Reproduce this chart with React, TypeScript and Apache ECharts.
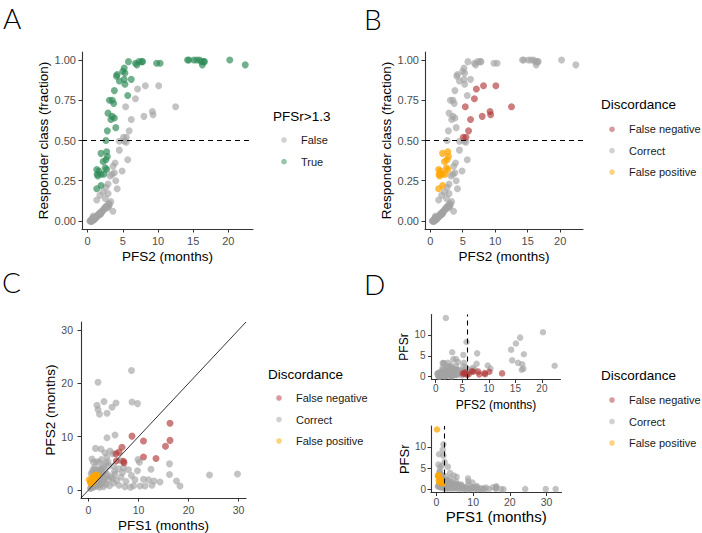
import React, { useEffect, useRef } from "react";
import * as echarts from "echarts";

// ---------- data (one entry per patient) ----------
const pfs1 = [
  1.9, 8.6, 1.7, 1.9, 2.2, 3.1, 3.7, 4.7, 5.5, 8.7, 9.8,
  5.3, 3.7, 2.5, 1.4, 4.3, 4.9, 0.7, 3.3, 3.7,
  2.8, 1.2, 3.5, 2.1, 1.6, 3.0, 1.0, 3.9, 0.9, 2.6, 0.53, 1.9, 2.2, 1.1, 2.5, 1.5, 0.8, 2.4, 1.3, 1.7,
  1.2, 1.8, 1.5, 1.1, 0.9, 0.6, 0.5, 1.0, 1.4, 0.7, 0.135, 0.4, 0.8, 1.6, 0.45,
  7.1, 7.0, 13.5, 11.0, 5.5, 6.1, 6.7, 15.4, 11.0, 16.3, 8.7, 16.3, 5.6,
  5.0, 6.5, 10.2, 9.9, 4.0, 16.2, 12.5, 3.3, 8.0, 5.2, 6.0, 2.8, 2.6, 3.5, 2.2, 16.2, 2.0, 2.4, 1.5,
  0.5, 0.8, 1.0, 1.2, 0.9, 1.5, 2.0, 1.8, 2.5, 3.0, 3.5, 4.2, 5.0, 6.1, 7.3, 8.4, 9.0, 10.3, 11.3, 12.7, 18.3,
  2.2, 1.6, 2.8, 3.2, 4.0, 4.8, 5.6, 6.5, 7.5, 9.3, 11.0, 12.0, 13.1, 14.3, 17.6, 24.2, 29.8, 32.5,
  2.5, 3.8, 5.3, 6.8, 8.6, 2.0, 1.3, 0.7, 4.5, 7.0, 9.8, 3.0, 0.4, 2.2,
];
const pfs2 = [
  20.2, 22.4, 15.9, 15.1, 14.2, 16.6, 14.4, 15.5, 16.3, 16.5, 16.2,
  10.3, 9.8, 7.7, 7.8, 7.3, 6.8, 5.8, 7.0, 6.2,
  4.1, 4.2, 5.0, 5.2, 5.3, 4.5, 5.2, 5.3, 3.8, 5.7, 3.1, 3.5, 3.7, 2.9, 3.5, 3.8, 3.3, 4.0, 2.8, 2.6,
  1.9, 2.7, 2.8, 2.6, 2.2, 1.3, 1.6, 1.9, 2.5, 2.3, 1.9, 1.3, 1.35, 2.7, 1.45,
  5.1, 5.4, 5.9, 6.2, 6.8, 7.1, 8.0, 8.2, 9.2, 9.3, 10.1, 12.5, 5.5,
  4.5, 5.5, 5.2, 5.7, 4.5, 4.9, 3.9, 3.6, 3.8, 3.5, 4.0, 3.2, 2.9, 2.6, 2.2, 2.9, 1.75, 2.5, 1.3,
  0.4, 0.6, 0.5, 0.8, 1.0, 0.7, 0.9, 1.2, 1.0, 0.6, 1.1, 0.8, 1.3, 0.9, 0.6, 0.5, 0.8, 0.75, 0.75, 0.9, 0.75,
  1.6, 1.4, 1.8, 2.1, 1.9, 2.2, 1.8, 2.4, 1.6, 1.9, 2.0, 1.9, 1.7, 1.5, 1.7, 2.8, 3.0, 3.1,
  2.6, 2.9, 3.0, 3.3, 2.7, 2.3, 1.1, 0.8, 2.5, 4.2, 3.6, 1.4, 0.3, 0.5,
];
const responderFraction = [
  1.0, 0.97, 1.0, 1.0, 1.0, 0.99, 1.0, 1.0, 0.97, 0.99, 0.99,
  0.98, 0.98, 0.99, 0.99, 0.99, 0.98, 0.99, 0.97, 0.88,
  0.9, 0.91, 0.93, 0.95, 0.92, 0.87, 0.88, 0.85, 0.81, 0.78, 0.75, 0.75, 0.73, 0.67, 0.65, 0.64, 0.63, 0.58, 0.56, 0.5,
  0.42, 0.43, 0.4, 0.38, 0.37, 0.32, 0.31, 0.29, 0.33, 0.29, 0.22, 0.2, 0.29, 0.32, 0.28,
  0.52, 0.71, 0.56, 0.63, 0.76, 0.82, 0.65, 0.84, 0.68, 0.66, 0.84, 0.71, 0.52,
  0.495, 0.49, 0.495, 0.38, 0.44, 0.31, 0.36, 0.34, 0.3, 0.29, 0.25, 0.28, 0.23, 0.21, 0.18, 0.17, 0.16, 0.14, 0.13,
  0.0, 0.01, 0.0, 0.01, 0.02, 0.0, 0.01, 0.02, 0.01, 0.0, 0.02, 0.01, 0.03, 0.02, 0.01, 0.0, 0.02, 0.02, 0.01, 0.02, 0.01,
  0.04, 0.03, 0.05, 0.06, 0.05, 0.07, 0.04, 0.08, 0.04, 0.05, 0.06, 0.05, 0.04, 0.04, 0.05, 0.08, 0.09, 0.1,
  0.09, 0.1, 0.11, 0.12, 0.09, 0.07, 0.02, 0.03, 0.08, 0.2, 0.06, 0.03, 0.0, 0.0,
];

const pfsrThreshold = 1.3;
const responderThreshold = 0.5;
const pfs2Cutoff = 6;
const pfs1Cutoff = 2;
const pfsrLevels = ["False", "True"];
const discordanceLevels = ["False negative", "Correct", "False positive"];

const fractionTicks = [0, 0.25, 0.5, 0.75, 1];
const pfs2Ticks = [0, 5, 10, 15, 20];
const pfsDiagTicks = [0, 10, 20, 30];
const pfsrTicks = [0, 5, 10];
const pfs1Ticks = [0, 10, 20, 30];

// ---------- styling ----------
const FONT = "Liberation Sans, Arial, sans-serif";
const COL = {
  gray: "#a3a3a3",
  green: "#2e8b57",
  red: "#b03838",
  orange: "#ffa500",
};
const OPA = { gray: 0.65, green: 0.68, red: 0.65, orange: 0.75 };

type P = { p1: number; p2: number; fr: number; r: number; isTrue: boolean; disc: string };
const n = Math.min(pfs1.length, pfs2.length, responderFraction.length);
const patients: P[] = [];
for (let i = 0; i < n; i++) {
  const r = pfs2[i] / pfs1[i];
  const isTrue = r > pfsrThreshold;
  const resp = responderFraction[i] >= responderThreshold;
  const disc = resp && !isTrue ? discordanceLevels[0] : !resp && isTrue ? discordanceLevels[2] : discordanceLevels[1];
  patients.push({ p1: pfs1[i], p2: pfs2[i], fr: responderFraction[i], r, isTrue, disc });
}

function axis(o: any) {
  return {
    type: "value",
    gridIndex: o.grid,
    min: o.min,
    max: o.max,
    axisLine: { show: true, onZero: false, lineStyle: { color: "#333", width: 1.1 } },
    axisTick: { show: true, length: 3.5, customValues: o.ticks, lineStyle: { color: "#333", width: 1 } },
    axisLabel: {
      customValues: o.ticks,
      formatter: o.fmt || ((v: number) => String(v)),
      color: "#4d4d4d",
      fontSize: o.fs,
      margin: o.margin,
      fontFamily: FONT,
    },
    splitLine: { show: false },
    name: o.name,
    nameLocation: "middle",
    nameGap: o.gap,
    nameTextStyle: { color: "#000", fontSize: o.nfs, fontFamily: FONT },
  };
}

function sc(name: string, xi: number, pts: number[][], color: string, op: number, size = 7, extra: any = {}) {
  return {
    type: "scatter",
    name,
    xAxisIndex: xi,
    yAxisIndex: xi,
    data: pts,
    symbolSize: size,
    itemStyle: { color, opacity: op },
    silent: true,
    ...extra,
  };
}

function legend(x: number, yTitle: number, title: string, items: { label: string; color: string }[], step: number, y0: number) {
  const els: any[] = [
    { type: "text", left: x, top: yTitle - 8, style: { text: title, fill: "#000", fontSize: 13.5, fontFamily: FONT } },
  ];
  items.forEach((it, k) => {
    const y = y0 + k * step;
    els.push({ type: "circle", shape: { cx: x + 11, cy: y, r: 2.8 }, style: { fill: it.color, opacity: 0.5 } });
    els.push({
      type: "text",
      x: x + 28,
      y,
      style: { text: it.label, fill: "#1a1a1a", fontSize: 11, fontFamily: FONT, verticalAlign: "middle" },
    });
  });
  return els;
}

export default function App() {
  const ref = useRef<HTMLDivElement>(null);
  useEffect(() => {
    if (!ref.current) return;
    const chart = echarts.init(ref.current, undefined, { renderer: "svg" });

    const grids = [
      { left: 82, top: 52, width: 171, height: 177 }, // A
      { left: 425, top: 52, width: 158, height: 177 }, // B
      { left: 81, top: 322, width: 165, height: 176.5 }, // C
      { left: 431.5, top: 314.5, width: 129, height: 65 }, // D top
      { left: 431, top: 426, width: 130.5, height: 66.5 }, // D bottom
    ];

    const fracFmt = (v: number) => v.toFixed(2);
    const xAxes = [
      axis({ grid: 0, min: -0.8, max: 23.5, ticks: pfs2Ticks, fs: 11, margin: 6, name: "PFS2 (months)", gap: 20, nfs: 13.5 }),
      axis({ grid: 1, min: -0.8, max: 23.5, ticks: pfs2Ticks, fs: 11, margin: 6, name: "PFS2 (months)", gap: 20, nfs: 13.5 }),
      axis({ grid: 2, min: -1.5, max: 31.5, ticks: pfsDiagTicks, fs: 10.5, margin: 6, name: "PFS1 (months)", gap: 20, nfs: 13.5 }),
      axis({ grid: 3, min: -0.8, max: 23.5, ticks: pfs2Ticks, fs: 10, margin: 4, name: "PFS2 (months)", gap: 19, nfs: 12 }),
      axis({ grid: 4, min: -1.5, max: 34.1, ticks: pfs1Ticks, fs: 10.5, margin: 4, name: "PFS1 (months)", gap: 16, nfs: 15 }),
    ];
    const yAxes = [
      axis({ grid: 0, min: -0.05, max: 1.05, ticks: fractionTicks, fmt: fracFmt, fs: 11, margin: 6, name: "Responder class (fraction)", gap: 32, nfs: 13.5 }),
      axis({ grid: 1, min: -0.05, max: 1.05, ticks: fractionTicks, fmt: fracFmt, fs: 11, margin: 6, name: "Responder class (fraction)", gap: 32, nfs: 13.5 }),
      axis({ grid: 2, min: -1.5, max: 31.5, ticks: pfsDiagTicks, fs: 10.5, margin: 8, name: "PFS2 (months)", gap: 21, nfs: 13.5 }),
      axis({ grid: 3, min: -0.7, max: 14.9, ticks: pfsrTicks, fs: 10, margin: 6, name: "PFSr", gap: 17, nfs: 12 }),
      axis({ grid: 4, min: -0.7, max: 14.9, ticks: pfsrTicks, fs: 10, margin: 5, name: "PFSr", gap: 19, nfs: 13 }),
    ];

    const ptsA = (f: (p: P) => boolean) => patients.filter(f).map((p) => [p.p2, p.fr]);
    const ptsC = (f: (p: P) => boolean) =>
      patients.filter((p) => f(p) && p.p1 <= 30 && p.p2 <= 30).map((p) => [p.p1, p.p2]);
    const ptsDt = (f: (p: P) => boolean) => patients.filter(f).map((p) => [p.p2, p.r]);
    const ptsDb = (f: (p: P) => boolean) => patients.filter(f).map((p) => [p.p1, p.r]);

    const dashed = { type: [5, 4], width: 1.1, color: "#000" };
    const FN = discordanceLevels[0], OK = discordanceLevels[1], FP = discordanceLevels[2];

    const series: any[] = [
      // A
      sc(pfsrLevels[0], 0, ptsA((p) => !p.isTrue), COL.gray, OPA.gray, 7, {
        markLine: { silent: true, symbol: ["none", "none"], label: { show: false }, lineStyle: dashed, data: [{ yAxis: responderThreshold }] },
      }),
      sc(pfsrLevels[1], 0, ptsA((p) => p.isTrue), COL.green, OPA.green),
      // B
      sc(OK, 1, ptsA((p) => p.disc === OK), COL.gray, OPA.gray, 7, {
        markLine: { silent: true, symbol: ["none", "none"], label: { show: false }, lineStyle: dashed, data: [{ yAxis: responderThreshold }] },
      }),
      sc(FN, 1, ptsA((p) => p.disc === FN), COL.red, OPA.red),
      sc(FP, 1, ptsA((p) => p.disc === FP), COL.orange, OPA.orange),
      // C
      sc(OK, 2, ptsC((p) => p.disc === OK), COL.gray, OPA.gray, 7, {
        markLine: {
          silent: true,
          symbol: ["none", "none"],
          label: { show: false },
          lineStyle: { type: "solid", width: 0.8, color: "#000" },
          data: [[{ coord: [-1.5, -1.5] }, { coord: [31.5, 31.5] }]],
        },
      }),
      sc(FN, 2, ptsC((p) => p.disc === FN), COL.red, OPA.red),
      sc(FP, 2, ptsC((p) => p.disc === FP), COL.orange, OPA.orange),
      // D top
      sc(OK, 3, ptsDt((p) => p.disc !== FN), COL.gray, OPA.gray, 6.5, {
        markLine: { silent: true, symbol: ["none", "none"], label: { show: false }, lineStyle: dashed, data: [{ xAxis: pfs2Cutoff }] },
      }),
      sc(FN, 3, ptsDt((p) => p.disc === FN), COL.red, OPA.red, 6.5),
      // D bottom
      sc(OK, 4, ptsDb((p) => p.disc !== FP), COL.gray, OPA.gray, 6.5, {
        markLine: { silent: true, symbol: ["none", "none"], label: { show: false }, lineStyle: dashed, data: [{ xAxis: pfs1Cutoff }] },
      }),
      sc(FP, 4, ptsDb((p) => p.disc === FP), COL.orange, OPA.orange, 6.5),
    ];

    const discItems = [
      { label: FN, color: COL.red },
      { label: OK, color: COL.gray },
      { label: FP, color: COL.orange },
    ];
    const letter = (t: string, x: number, y: number) => ({
      type: "text",
      x,
      y,
      style: { text: t, fill: "#000", fontSize: 28, fontFamily: "Lato, Open Sans, sans-serif", fontWeight: 300, verticalAlign: "top" },
    });

    const graphic = [
      letter("A", 3, 4),
      letter("B", 364, 5),
      letter("C", 2, 268),
      letter("D", 364, 270),
      ...legend(273, 117, "PFSr>1.3", [
        { label: pfsrLevels[0], color: COL.gray },
        { label: pfsrLevels[1], color: COL.green },
      ], 21.7, 140),
      ...legend(601, 105, "Discordance", discItems, 21.4, 129.3),
      ...legend(268, 375, "Discordance", discItems, 21.5, 398),
      ...legend(601, 376, "Discordance", discItems, 21.5, 400),
    ];

    chart.setOption({
      animation: false,
      backgroundColor: "#fff",
      grid: grids,
      xAxis: xAxes,
      yAxis: yAxes,
      series,
      graphic,
    });
    return () => chart.dispose();
  }, []);

  return (
    <div
      ref={ref}
      style={{ position: "fixed", left: 0, top: 0, width: 702, height: 533, background: "#fff" }}
    />
  );
}
